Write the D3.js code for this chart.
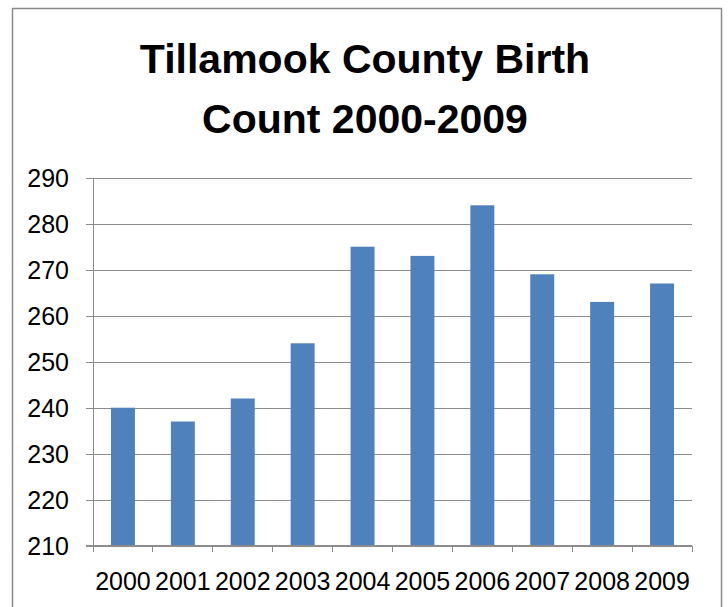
<!DOCTYPE html>
<html><head><meta charset="utf-8">
<script src="https://cdn.jsdelivr.net/npm/d3@7"></script>
<style>html,body{margin:0;padding:0;background:#fff;}svg{display:block;}</style>
</head><body>
<script>
const years = ["2000","2001","2002","2003","2004","2005","2006","2007","2008","2009"];
const births = [240, 237, 242, 254, 275, 273, 284, 269, 263, 267];
const yTicks = [210, 220, 230, 240, 250, 260, 270, 280, 290];
const titleLines = ["Tillamook County Birth", "Count 2000-2009"];

const W = 728, H = 607;
const svg = d3.select("body").append("svg").attr("width", W).attr("height", H);

svg.append("rect").attr("x", 12.5).attr("y", 8.5).attr("width", 709).attr("height", 620)
  .attr("fill", "#fff").attr("stroke", "#8a8a8a").attr("stroke-width", 1.5);

const pLeft = 93, pRight = 692, pTop = 177.7, pBottom = 545.7;
const x = d3.scaleBand().domain(years).range([pLeft, pRight]).paddingInner(0.6).paddingOuter(0.3);
const xc = d3.scaleBand().domain(years).range([pLeft, pRight]);
const y = d3.scaleLinear().domain([210, 290]).range([pBottom, pTop]);

const font = "'Liberation Sans', Arial, sans-serif";

// gridlines
const yAxis = d3.axisLeft(y).tickValues(yTicks).tickSize(-(pRight - pLeft)).tickPadding(24).tickFormat(d3.format("d"));
const gy = svg.append("g").attr("transform", `translate(${pLeft},0)`).call(yAxis);
gy.select(".domain").remove();
gy.selectAll(".tick line").attr("stroke", "#8c8c8c").attr("x1", -7).attr("shape-rendering", "crispEdges");
gy.selectAll(".tick text").attr("font-family", font).attr("font-size", 25).attr("fill", "#000").attr("dy", "0.36em");

// bars
svg.append("g").selectAll("rect").data(years).join("rect")
  .attr("x", (d) => x(d)).attr("width", x.bandwidth())
  .attr("y", (d, i) => y(births[i])).attr("height", (d, i) => y(210) - y(births[i]))
  .attr("fill", "#4f81bd");

// y axis line
svg.append("line").attr("x1", pLeft).attr("x2", pLeft).attr("y1", pTop).attr("y2", pBottom)
  .attr("stroke", "#8c8c8c").attr("shape-rendering", "crispEdges");

// x axis
const gx = svg.append("g").attr("transform", `translate(0,${pBottom})`);
gx.append("line").attr("x1", pLeft - 7).attr("x2", pRight).attr("stroke", "#8c8c8c").attr("shape-rendering", "crispEdges");
const edges = years.map((d) => xc(d)).concat([pRight]);
gx.selectAll("line.tk").data(edges).join("line").attr("class", "tk")
  .attr("x1", (d) => d).attr("x2", (d) => d).attr("y1", 0).attr("y2", 6)
  .attr("stroke", "#8c8c8c").attr("shape-rendering", "crispEdges");
gx.selectAll("text").data(years).join("text")
  .attr("x", (d) => xc(d) + xc.bandwidth() / 2).attr("y", 44.5)
  .attr("text-anchor", "middle").attr("font-family", font).attr("font-size", 25).attr("fill", "#000")
  .text((d) => d);

// title
svg.append("g").selectAll("text").data(titleLines).join("text")
  .attr("x", 365).attr("y", (d, i) => 73 + i * 60)
  .attr("text-anchor", "middle").attr("font-family", font).attr("font-weight", "bold")
  .attr("font-size", 41).attr("fill", "#000").text((d) => d);
</script>
</body></html>
